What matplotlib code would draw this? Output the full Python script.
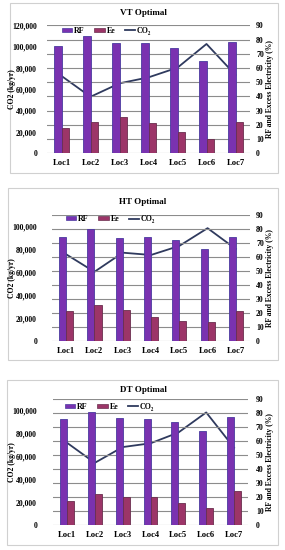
import matplotlib
matplotlib.use("Agg")
import matplotlib.pyplot as plt
from matplotlib.patches import Rectangle, Patch
from matplotlib.lines import Line2D
import numpy as np

plt.rcParams['font.family'] = ['Liberation Serif', 'DejaVu Serif']
plt.rcParams['font.weight'] = 'bold'

locations = ["Loc1", "Loc2", "Loc3", "Loc4", "Loc5", "Loc6", "Loc7"]
titles = ["VT Optimal", "HT Optimal", "DT Optimal"]

vt_rf = [75.5, 82.7, 77.8, 77.6, 73.8, 65.2, 78.3]
vt_ee = [18.0, 22.3, 25.5, 21.0, 15.0, 9.8, 21.8]
vt_co2 = [72500, 53000, 65600, 71200, 80300, 102500, 73400]

ht_rf = [74.4, 79.7, 73.7, 74.4, 72.3, 65.8, 74.4]
ht_ee = [21.3, 25.8, 21.8, 17.0, 14.6, 13.9, 21.3]
ht_co2 = [75700, 60400, 77100, 75100, 83000, 98500, 80300]

dt_rf = [75.7, 81.2, 76.9, 75.7, 73.5, 67.1, 77.1]
dt_ee = [17.4, 22.0, 20.3, 20.3, 15.8, 11.9, 24.1]
dt_co2 = [72000, 54400, 68200, 71500, 80900, 98500, 67600]

left_max = [120000, 110000, 110000]

W, H = 285, 550
fig = plt.figure(figsize=(W / 100, H / 100), dpi=100)

# panel layout in pixels: (plot left, plot right, plot top, plot bottom)
plots = [(47, 250, 25.3, 153.3), (52, 250, 215, 341), (53, 248, 399.3, 525)]
boxes = [(10, 278, 3, 173), (8, 278, 188, 360), (7, 278, 380, 545)]
title_y = [13.3, 201.7, 390]
legend_pos = [(62, 30.7), (66, 219), (65, 406.7)]

RF_FACE, RF_EDGE = '#7A32B0', '#4A3AA0'
EE_FACE, EE_EDGE = '#9C3568', '#6A2E4E'
LINE_C = '#2F3A5E'
GRID_C = '#8C8C8C'

data = [(vt_rf, vt_ee, vt_co2), (ht_rf, ht_ee, ht_co2), (dt_rf, dt_ee, dt_co2)]

for i in range(3):
    rf, ee, co2 = data[i]
    l, r, t, b = plots[i]
    bx0, bx1, by0, by1 = boxes[i]
    fig.patches.append(Rectangle((bx0 / W, 1 - by1 / H), (bx1 - bx0) / W, (by1 - by0) / H,
                                 transform=fig.transFigure, fill=False,
                                 edgecolor='#D0D0D0', linewidth=0.8))
    ax = fig.add_axes([l / W, 1 - b / H, (r - l) / W, (b - t) / H])
    ax2 = ax.twinx()
    x = np.arange(len(locations))

    ax.plot(x, co2, color=LINE_C, linewidth=1.3, zorder=2)
    ax.set_ylim(0, left_max[i])
    ax.set_yticks(np.arange(0, left_max[i] + 1, 20000))
    ax.set_yticklabels([f"{v:,}" for v in np.arange(0, left_max[i] + 1, 20000)])
    ax.set_xlim(-0.5, len(locations) - 0.5)
    ax.set_xticks(x)
    ax.set_xticklabels(locations)

    bw = 0.25
    ax2.bar(x - bw / 2, rf, width=bw, color=RF_FACE, edgecolor=RF_EDGE, linewidth=0.6, zorder=3)
    ax2.bar(x + bw / 2, ee, width=bw, color=EE_FACE, edgecolor=EE_EDGE, linewidth=0.6, zorder=3)
    ax2.set_ylim(0, 90)
    ax2.set_yticks(np.arange(0, 91, 10))
    ax2.set_axisbelow(True)
    ax2.grid(axis='y', color=GRID_C, linewidth=0.8)
    ax2.set_xlim(-0.5, len(locations) - 0.5)

    for a in (ax, ax2):
        for s in a.spines.values():
            s.set_visible(False)
    ax.tick_params(axis='y', length=0, labelsize=5.6, pad=(l - 37) * 0.72)
    ax.tick_params(axis='x', length=0, labelsize=6.2, pad=4)
    ax2.tick_params(axis='y', length=0, labelsize=5.6, pad=(256 - r) * 0.72)
    for lab in ax.get_xticklabels() + ax.get_yticklabels() + ax2.get_yticklabels():
        lab.set_fontweight('bold')

    fig.text(143 / W, 1 - title_y[i] / H, titles[i], ha='center', va='center',
             fontsize=6.5, fontweight='bold')
    fig.text(12.5 / W, 1 - ((t + b) / 2) / H, "CO2 (kg/yr)", rotation=90,
             ha='center', va='center', fontsize=5.5, fontweight='bold')
    fig.text(270 / W, 1 - ((t + b) / 2) / H, "RF and Excess Electricity (%)", rotation=90,
             ha='center', va='center', fontsize=5.5, fontweight='bold')

    handles = [Patch(facecolor=RF_FACE, edgecolor=RF_EDGE, linewidth=0.5),
               Patch(facecolor=EE_FACE, edgecolor=EE_EDGE, linewidth=0.5),
               Line2D([0], [0], color=LINE_C, linewidth=1.3)]
    lx, ly = legend_pos[i]
    leg = ax2.legend(handles, ["RF", "Ee", "CO₂"], loc='center left',
                     bbox_to_anchor=(lx / W, 1 - ly / H), bbox_transform=fig.transFigure,
                     ncol=3, frameon=False, fontsize=5.8, handlelength=1.3,
                     handleheight=0.35, handletextpad=0.2, columnspacing=1.2,
                     borderpad=0, borderaxespad=0)
    for txt in leg.get_texts():
        txt.set_fontweight('bold')

fig.savefig("out.png", dpi=100, facecolor='white')
